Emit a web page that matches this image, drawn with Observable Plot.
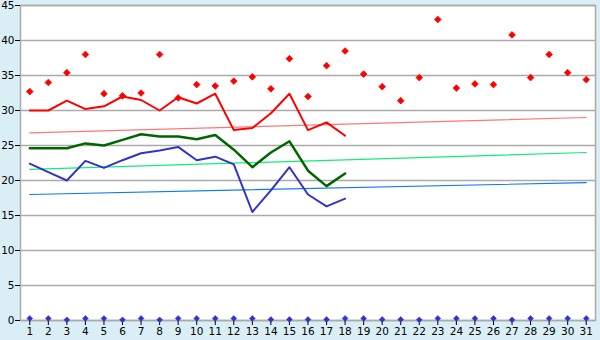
<!DOCTYPE html>
<html>
<head>
<meta charset="utf-8">
<script src="https://cdn.jsdelivr.net/npm/d3@7"></script>
<script src="https://cdn.jsdelivr.net/npm/@observablehq/plot@0.6"></script>
<style>
  html, body { margin: 0; padding: 0; background: #daeef5; }
  #chart svg { display: block; }
</style>
</head>
<body>
<div id="chart"></div>
<script>
const days = [1,2,3,4,5,6,7,8,9,10,11,12,13,14,15,16,17,18,19,20,21,22,23,24,25,26,27,28,29,30,31];
const yTicks = [0,5,10,15,20,25,30,35,40,45];

// red scatter (all days)
const maxPoints = [32.7,34.0,35.4,38.0,32.4,32.1,32.5,38.0,31.8,33.7,33.5,34.2,34.8,33.1,37.4,32.0,36.4,38.5,35.2,33.4,31.4,34.7,43.0,33.2,33.8,33.7,40.8,34.7,38.0,35.4,34.4];
// lines for days 1..18
const lineDays = [1,2,3,4,5,6,7,8,9,10,11,12,13,14,15,16,17,18];
const maxLine  = [30.0,30.0,31.4,30.2,30.6,32.0,31.5,30.0,31.9,31.0,32.4,27.2,27.5,29.6,32.4,27.2,28.3,26.4];
const meanLine = [24.6,24.6,24.6,25.3,25.0,25.8,26.6,26.3,26.3,25.9,26.5,24.4,21.9,24.0,25.6,21.4,19.2,21.0];
const minLine  = [22.4,21.2,20.0,22.8,21.8,22.9,23.9,24.3,24.8,22.9,23.4,22.3,15.5,18.6,21.9,18.0,16.3,17.4];
// bottom markers (near zero)
const precip = [0.3,0.3,0.1,0.3,0.3,0.1,0.3,0.1,0.3,0.3,0.3,0.3,0.3,0.15,0.15,0.15,0.15,0.3,0.3,0.15,0.15,0.1,0.3,0.3,0.3,0.3,0.1,0.3,0.3,0.3,0.3];
// normal trend lines (start day 1, end day 31)
const trendDays = [1,31];
const normMax  = [26.8,29.0];
const normMean = [21.6,24.0];
const normMin  = [18.0,19.7];

const rows = (xs, ys) => xs.map((d,i) => ({day: d, v: ys[i]}));

const chart = Plot.plot({
  width: 600,
  height: 340,
  marginLeft: 20,
  marginRight: 5,
  marginTop: 5,
  marginBottom: 20,
  style: {background: "#daeef5", fontFamily: "DejaVu Sans", fontSize: "10px", color: "black"},
  x: {type: "linear", domain: [0.5, 31.5], label: null},
  y: {domain: [0,45], ticks: yTicks, label: null},
  marks: [
    Plot.frame({fill: "white", stroke: null}),
    Plot.gridY(yTicks, {stroke: "#aaaaaa", strokeOpacity: 1, strokeWidth: 1.5}),
    Plot.frame({stroke: "#aaaaaa", strokeWidth: 1.5}),
    Plot.axisY(yTicks, {tickSize: 5, tickPadding: 1, stroke: "black", label: null, fontSize: 10.5}),
    Plot.axisX(days, {tickSize: 5, tickPadding: 2, stroke: "black", label: null, fontSize: 10.5, tickFormat: d => String(d)}),
    Plot.line(rows(trendDays, normMax),  {x: "day", y: "v", stroke: "#ff7777", strokeWidth: 1.2}),
    Plot.line(rows(trendDays, normMean), {x: "day", y: "v", stroke: "#11ee77", strokeWidth: 1.2}),
    Plot.line(rows(trendDays, normMin),  {x: "day", y: "v", stroke: "#0a7cf0", strokeWidth: 1.2}),
    Plot.line(rows(lineDays, maxLine),  {x: "day", y: "v", stroke: "#ff0000", strokeWidth: 2, curve: "linear"}),
    Plot.line(rows(lineDays, meanLine), {x: "day", y: "v", stroke: "#006600", strokeWidth: 2.5, curve: "linear"}),
    Plot.line(rows(lineDays, minLine),  {x: "day", y: "v", stroke: "#3333cc", strokeWidth: 2, curve: "linear"}),
    Plot.dot(rows(days, maxPoints), {x: "day", y: "v", symbol: "diamond2", r: 3, fill: "#ff0000", stroke: "#ff0000", strokeWidth: 0.8}),
    Plot.dot(rows(days, precip), {x: "day", y: "v", symbol: "diamond2", r: 2.6, fill: "#3333cc", stroke: "#3333cc", strokeWidth: 0.6})
  ]
});
document.getElementById("chart").appendChild(chart);
</script>
</body>
</html>
